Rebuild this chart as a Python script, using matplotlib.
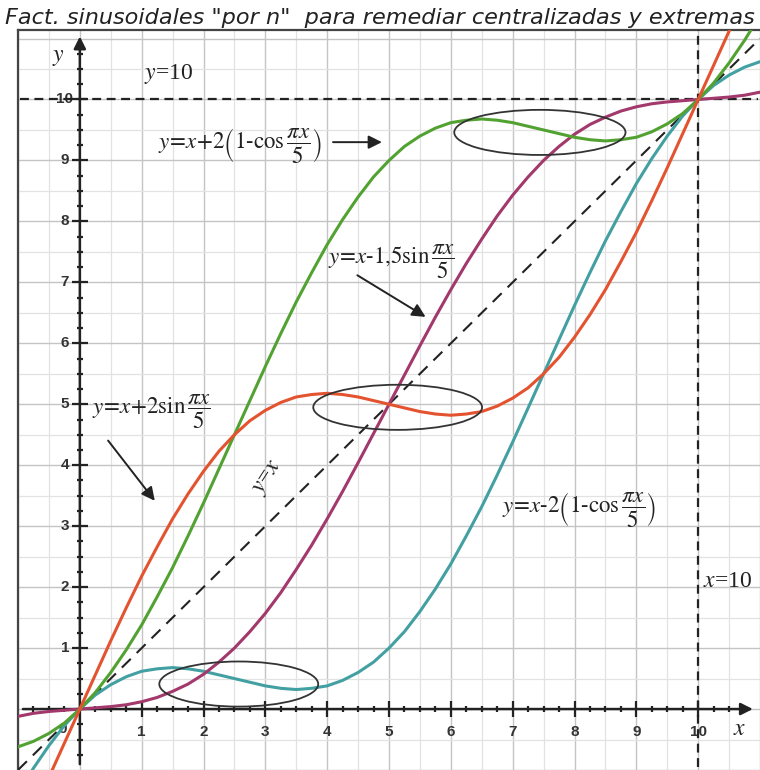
import numpy as np
import matplotlib
matplotlib.use("Agg")
import matplotlib.pyplot as plt
from matplotlib.patches import Ellipse

plt.rcParams["mathtext.fontset"] = "stix"

# sample positions (step 0.25) and curve values
x_vals = [-1.0, -0.75, -0.5, -0.25, 0.0, 0.25, 0.5, 0.75, 1.0, 1.25, 1.5, 1.75,
          2.0, 2.25, 2.5, 2.75, 3.0, 3.25, 3.5, 3.75, 4.0, 4.25, 4.5, 4.75,
          5.0, 5.25, 5.5, 5.75, 6.0, 6.25, 6.5, 6.75, 7.0, 7.25, 7.5, 7.75,
          8.0, 8.25, 8.5, 8.75, 9.0, 9.25, 9.5, 9.75, 10.0, 10.25, 10.5, 10.75, 11.0]

# y = x + 2 sin(pi x / 5)
red_y = [-2.18, -1.66, -1.12, -0.56, 0.00, 0.56, 1.12, 1.66, 2.18, 2.66, 3.12, 3.53,
         3.90, 4.23, 4.50, 4.73, 4.90, 5.03, 5.12, 5.16, 5.18, 5.16, 5.12, 5.06,
         5.00, 4.94, 4.88, 4.84, 4.82, 4.84, 4.88, 4.97, 5.10, 5.27, 5.50, 5.77,
         6.10, 6.47, 6.88, 7.34, 7.82, 8.34, 8.88, 9.44, 10.00, 10.56, 11.12, 11.66, 12.18]

# y = x - 1,5 sin(pi x / 5)
purple_y = [-0.12, -0.07, -0.04, -0.02, 0.00, 0.02, 0.04, 0.07, 0.12, 0.19, 0.29, 0.41,
            0.57, 0.77, 1.00, 1.27, 1.57, 1.91, 2.29, 2.69, 3.12, 3.57, 4.04, 4.52,
            5.00, 5.48, 5.96, 6.43, 6.88, 7.31, 7.71, 8.09, 8.43, 8.73, 9.00, 9.23,
            9.43, 9.59, 9.71, 9.81, 9.88, 9.93, 9.96, 9.98, 10.00, 10.02, 10.04, 10.07, 10.12]

# y = x + 2(1 - cos(pi x / 5))
green_y = [-0.62, -0.53, -0.40, -0.23, 0.00, 0.27, 0.60, 0.97, 1.38, 1.84, 2.32, 2.84,
           3.38, 3.94, 4.50, 5.06, 5.62, 6.16, 6.68, 7.16, 7.62, 8.03, 8.40, 8.73,
           9.00, 9.23, 9.40, 9.53, 9.62, 9.66, 9.68, 9.66, 9.62, 9.56, 9.50, 9.44,
           9.38, 9.34, 9.32, 9.34, 9.38, 9.47, 9.60, 9.77, 10.00, 10.27, 10.60, 10.97, 11.38]

# y = x - 2(1 - cos(pi x / 5))
teal_y = [-1.38, -0.97, -0.60, -0.27, 0.00, 0.23, 0.40, 0.53, 0.62, 0.66, 0.68, 0.66,
          0.62, 0.56, 0.50, 0.44, 0.38, 0.34, 0.32, 0.34, 0.38, 0.47, 0.60, 0.77,
          1.00, 1.27, 1.60, 1.97, 2.38, 2.84, 3.32, 3.84, 4.38, 4.94, 5.50, 6.06,
          6.62, 7.16, 7.68, 8.16, 8.62, 9.03, 9.40, 9.73, 10.00, 10.23, 10.40, 10.53, 10.62]

identity_x = [-1.0, 11.0]
identity_y = [-1.0, 11.0]

major_ticks = [1, 2, 3, 4, 5, 6, 7, 8, 9, 10]
title = 'Fact. sinusoidales "por n"  para remediar centralizadas y extremas'

XMIN, XMAX = -0.965, 10.96
YMIN, YMAX = -0.95, 11.14

fig = plt.figure(figsize=(7.6, 7.7), dpi=100)
ax = fig.add_axes([18 / 760, 0, 742 / 760, 740 / 770])
ax.set_xlim(XMIN, XMAX)
ax.set_ylim(YMIN, YMAX)

# grid: darker at integers, lighter at halves
ax.set_xticks(np.arange(-1, 12, 1.0))
ax.set_xticks(np.arange(-0.5, 11, 1.0), minor=True)
ax.set_yticks(np.arange(-1, 12, 1.0))
ax.set_yticks(np.arange(-0.5, 11.5, 1.0), minor=True)
ax.grid(which="major", color="#c4c4c4", lw=1.0)
ax.grid(which="minor", color="#e2e2e2", lw=0.9)
ax.tick_params(which="both", length=0, labelbottom=False, labelleft=False)
ax.set_axisbelow(True)
for side in ("right", "bottom"):
    ax.spines[side].set_visible(False)
for side in ("top", "left"):
    ax.spines[side].set_color("#444444")
    ax.spines[side].set_linewidth(1.6)

# coordinate axes with arrows
ax.annotate("", xy=(10.93, 0), xytext=(XMIN, 0),
            arrowprops=dict(arrowstyle="-|>", color="#222222", lw=1.8, mutation_scale=18))
ax.annotate("", xy=(0, 11.08), xytext=(0, YMIN),
            arrowprops=dict(arrowstyle="-|>", color="#222222", lw=1.8, mutation_scale=18))

# tick marks on the axes
minor_pos = [v / 4 for v in range(-3, 44) if v % 4 != 0]
ax.plot(major_ticks, [0] * len(major_ticks), ls="none", marker="|", ms=11, mew=1.6, color="#222222")
ax.plot(minor_pos, [0] * len(minor_pos), ls="none", marker="|", ms=5, mew=1.6, color="#222222")
ax.plot([0] * len(major_ticks), major_ticks, ls="none", marker="_", ms=11, mew=1.6, color="#222222")
ax.plot([0] * len(minor_pos), minor_pos, ls="none", marker="_", ms=5, mew=1.6, color="#222222")

for t in major_ticks:
    ax.text(t, -0.38, str(t), ha="center", va="center", fontsize=11, color="#333333",
            family="Liberation Sans", weight="bold")
    ax.text(-0.24, t, str(t), ha="center", va="center", fontsize=11, color="#333333",
            family="Liberation Sans", weight="bold")
ax.text(-0.28, -0.33, "0", ha="center", va="center", fontsize=11, color="#333333",
        family="Liberation Sans", weight="bold")

# reference dashed lines
ax.plot([XMIN, XMAX], [10, 10], color="#222222", lw=1.6, ls=(0, (4, 2.5)), zorder=3)
ax.plot([10, 10], [YMIN, YMAX], color="#222222", lw=1.6, ls=(0, (4, 2.5)), zorder=3)
ax.plot(identity_x, identity_y, color="#222222", lw=1.5, ls=(0, (6, 4)), zorder=3)

# curves
ax.plot(x_vals, teal_y, color="#43a0a2", lw=2.2, zorder=4)
ax.plot(x_vals, purple_y, color="#a2386b", lw=2.2, zorder=4)
ax.plot(x_vals, green_y, color="#52a232", lw=2.2, zorder=4)
ax.plot(x_vals, red_y, color="#e4532f", lw=2.2, zorder=4)

# ellipses marking the flat regions
for cx, cy, w in [(2.57, 0.41, 2.57), (5.14, 4.95, 2.73), (7.44, 9.46, 2.77)]:
    ax.add_patch(Ellipse((cx, cy), w, 0.74, fill=False, ec="#333333", lw=1.3, zorder=5))

serif = dict(family="Liberation Serif", color="#222222", fontsize=17)
ax.text(-0.34, 10.69, r"$y$", ha="center", va="center", **serif)
ax.text(10.67, -0.33, r"$x$", ha="center", va="center", **serif)
ax.text(1.04, 10.41, r"$y$=10", ha="left", va="center", **serif)
ax.text(10.08, 2.1, r"$x$=10", ha="left", va="center", **serif)
ax.text(3.05, 3.79, r"$y$=$x$", ha="center", va="center", rotation=57, **serif)

fsize = 16.5
ax.text(1.27, 9.25, r"$y\!=\!x\!+\!2\left(1\text{-}\mathrm{cos}\,\dfrac{\pi x}{5}\right)$",
        ha="left", va="center", fontsize=fsize, color="#222222")
ax.text(4.02, 7.33, r"$y\!=\!x\text{-}1{,}5\mathrm{sin}\,\dfrac{\pi x}{5}$",
        ha="left", va="center", fontsize=fsize, color="#222222")
ax.text(0.19, 4.88, r"$y\!=\!x\!+\!2\mathrm{sin}\,\dfrac{\pi x}{5}$",
        ha="left", va="center", fontsize=fsize, color="#222222")
ax.text(6.83, 3.27, r"$y\!=\!x\text{-}2\left(1\text{-}\mathrm{cos}\,\dfrac{\pi x}{5}\right)$",
        ha="left", va="center", fontsize=fsize, color="#222222")

arrow = dict(arrowstyle="-|>", color="#222222", lw=1.4, mutation_scale=20)
ax.annotate("", xy=(4.93, 9.3), xytext=(4.05, 9.3), arrowprops=arrow, zorder=6)
ax.annotate("", xy=(5.63, 6.41), xytext=(4.45, 7.14), arrowprops=arrow, zorder=6)
ax.annotate("", xy=(1.24, 3.38), xytext=(0.43, 4.44), arrowprops=arrow, zorder=6)

fig.text(5 / 760, 1 - 18 / 770, title, ha="left", va="center", fontsize=16.1,
         family="DejaVu Sans", style="italic", color="#222222")

fig.savefig("out.png", dpi=100)
